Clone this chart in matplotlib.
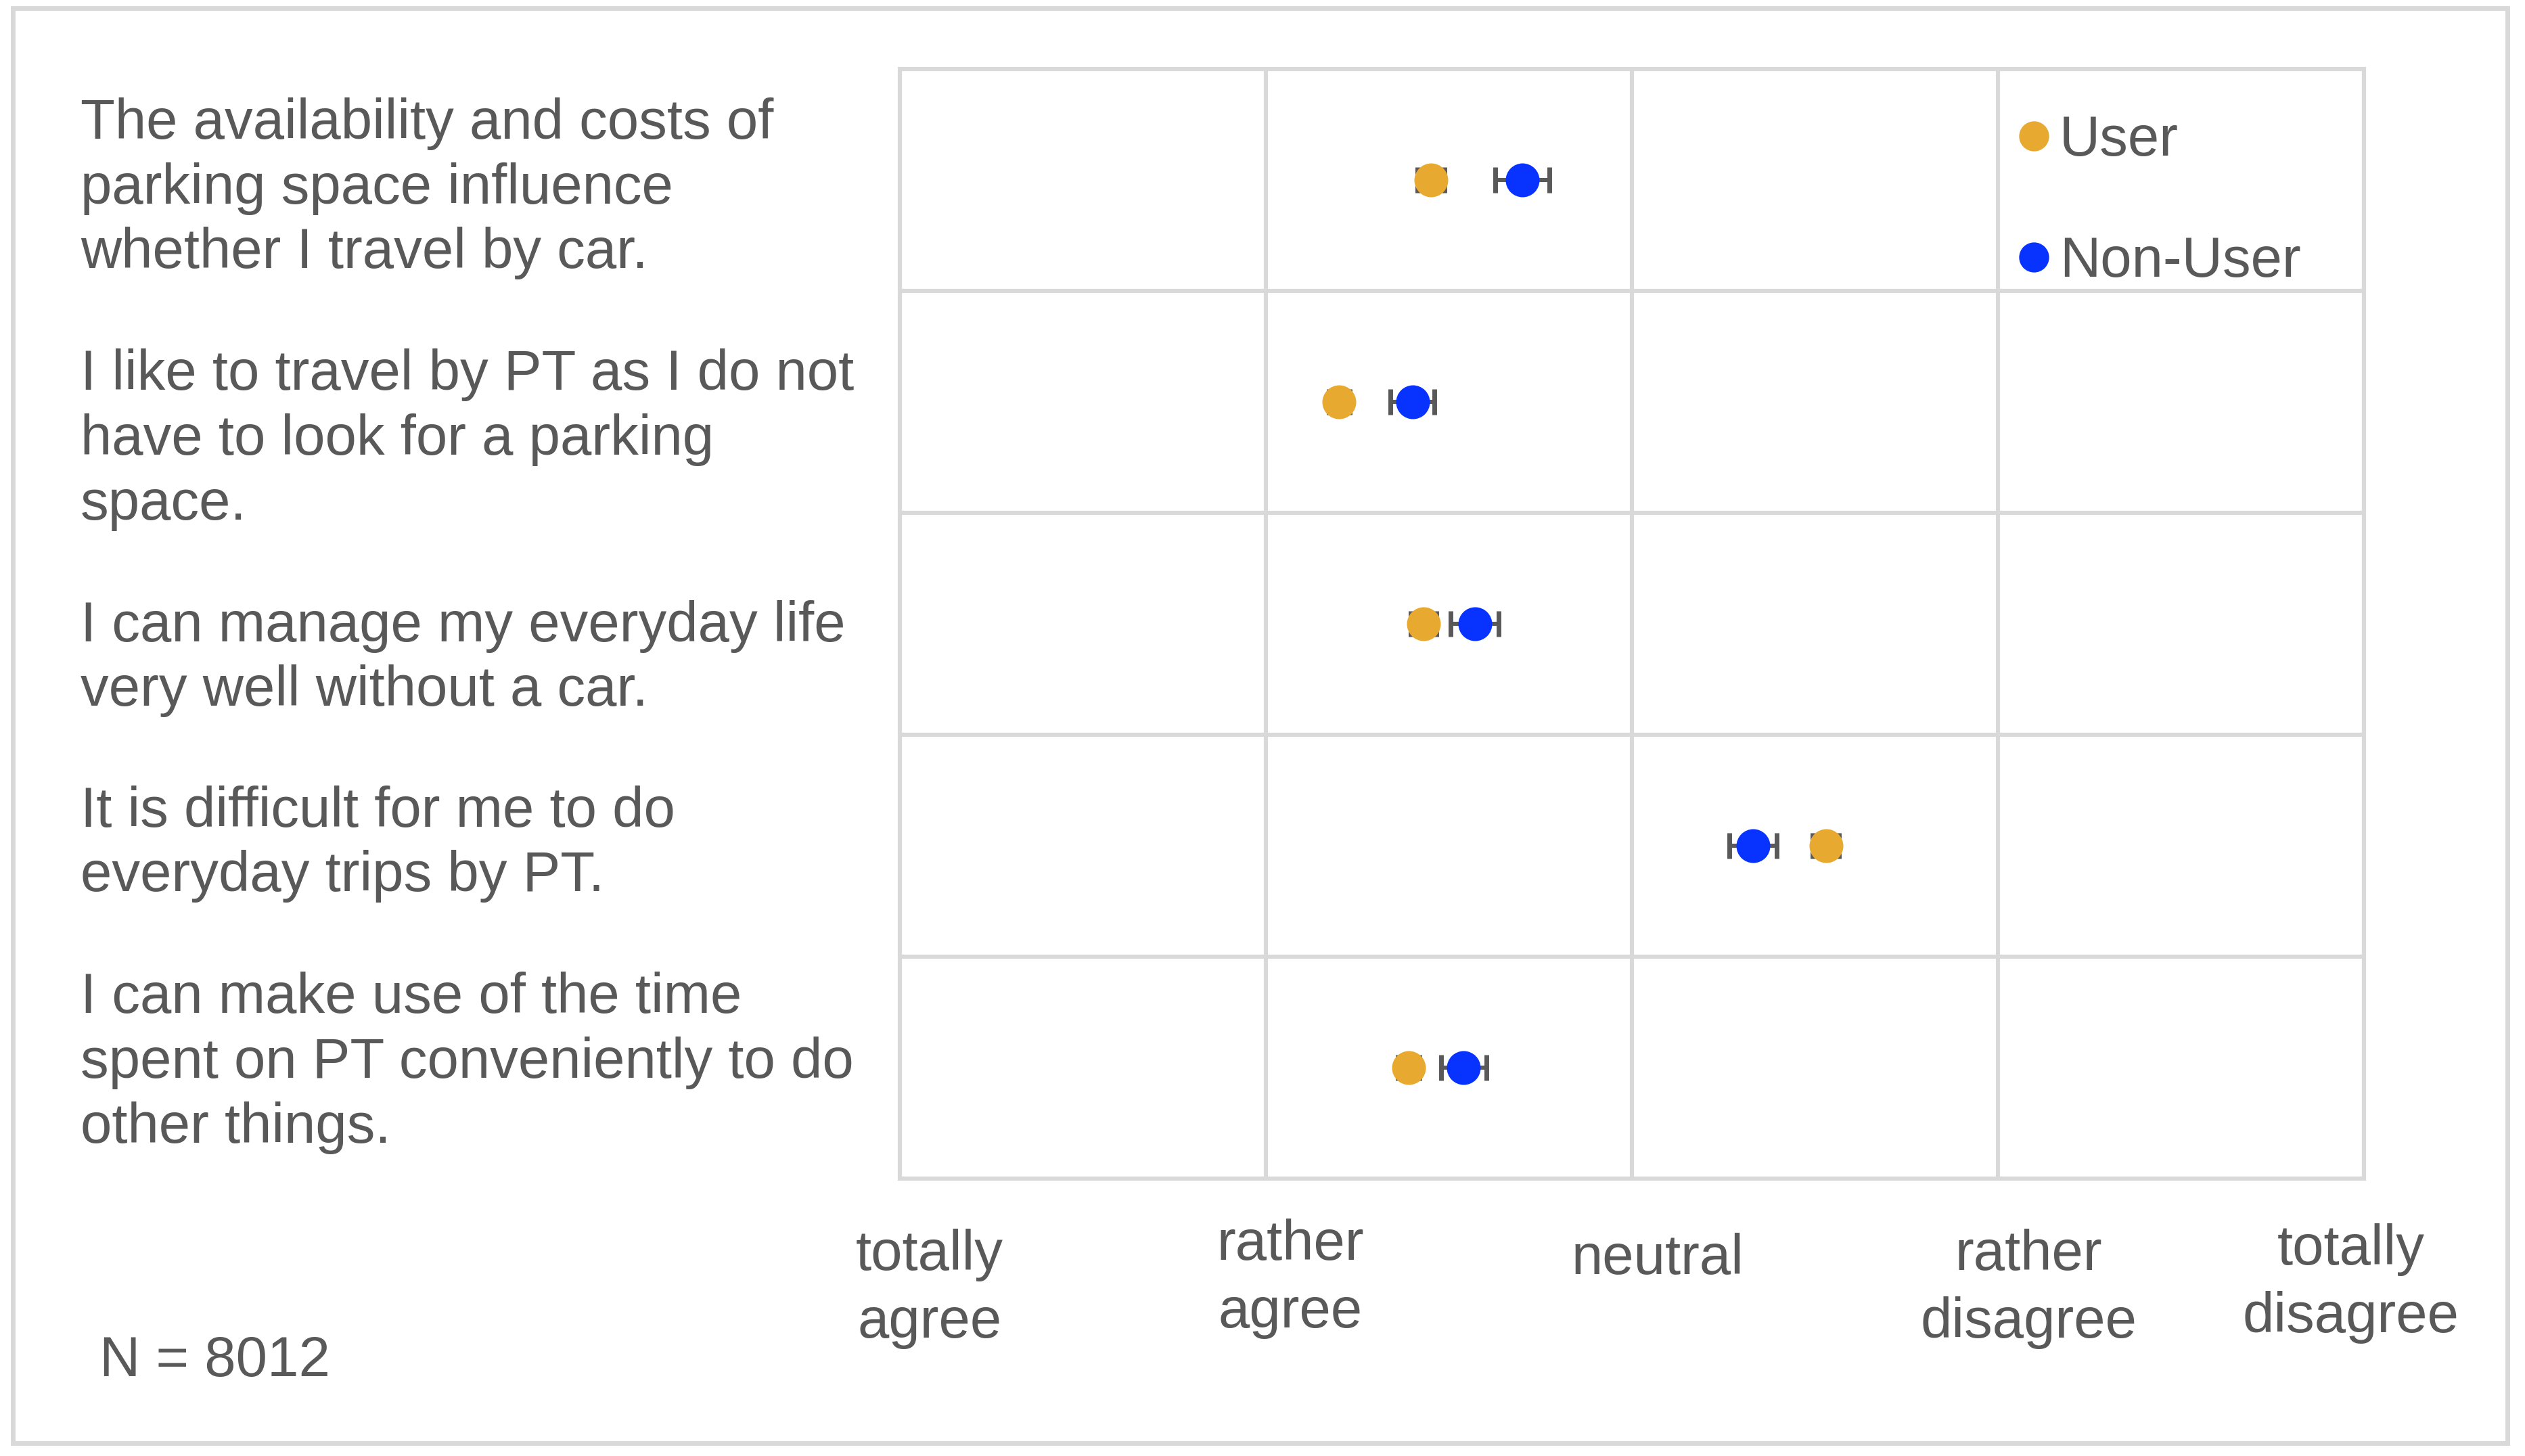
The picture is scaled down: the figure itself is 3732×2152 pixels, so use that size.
import matplotlib
matplotlib.use("Agg")
from matplotlib import pyplot as plt
from matplotlib.patches import Rectangle

plt.rcParams['font.family'] = ['Liberation Sans', 'DejaVu Sans']

statements = [
    "The availability and costs of\nparking space influence\nwhether I travel by car.",
    "I like to travel by PT as I do not\nhave to look for a parking\nspace.",
    "I can manage my everyday life\nvery well without a car.",
    "It is difficult for me to do\neveryday trips by PT.",
    "I can make use of the time\nspent on PT conveniently to do\nother things.",
]
scale_labels = ["totally\nagree", "rather\nagree", "neutral", "rather\ndisagree", "totally\ndisagree"]
scale_values = [1, 2, 3, 4, 5]

user_mean = [2.45, 2.20, 2.43, 3.53, 2.39]
user_err = [0.037, 0.028, 0.035, 0.036, 0.030]
nonuser_mean = [2.70, 2.40, 2.57, 3.33, 2.54]
nonuser_err = [0.074, 0.060, 0.066, 0.065, 0.062]

TEXT = '#595959'
GRID = '#D9D9D9'
USER_C = '#E8A931'
NONUSER_C = '#0833FF'

fig = plt.figure(figsize=(18.66, 10.76), dpi=200)
ax = fig.add_axes([0.3565, 0.1903, 0.5797, 0.7622])

rows = [i + 0.5 for i in range(len(statements))]

ax.errorbar(nonuser_mean, rows, xerr=nonuser_err, fmt='none', ecolor=TEXT,
            elinewidth=2.2, capsize=7, capthick=2.5, zorder=3)
ax.errorbar(user_mean, rows, xerr=user_err, fmt='none', ecolor=TEXT,
            elinewidth=2.2, capsize=7, capthick=2.5, zorder=3)
ax.plot(user_mean, rows, 'o', color=USER_C, markersize=17, linestyle='none',
        label='User', zorder=4)
ax.plot(nonuser_mean, rows, 'o', color=NONUSER_C, markersize=17, linestyle='none',
        label='Non-User', zorder=4)

ax.set_xlim(1, 5)
ax.set_ylim(len(statements), 0)
ax.set_xticks(scale_values)
ax.set_yticks(range(len(statements) + 1))
ax.grid(True, color=GRID, linewidth=2.2)
ax.set_axisbelow(True)
ax.tick_params(length=0, labelbottom=False, labelleft=False)
for s in ax.spines.values():
    s.set_color(GRID)
    s.set_linewidth(2.2)

leg = ax.legend(loc='upper left', bbox_to_anchor=(0.763, 0.959), frameon=False,
                fontsize=30, labelcolor=TEXT, handlelength=0.6, handletextpad=0.15,
                labelspacing=1.21, borderpad=0, borderaxespad=0, markerscale=0.88)

# scale labels under the axis
label_dx = [0.08, 0.066, 0.07, 0.084, -0.035]
label_y = [-0.099, -0.090, -0.072, -0.099, -0.094]
for v, lab, dx, yy in zip(scale_values, scale_labels, label_dx, label_y):
    ax.text(v + dx, yy, lab, transform=ax.get_xaxis_transform(), ha='center',
            va='center', fontsize=30, color=TEXT, linespacing=1.36, clip_on=False)

# statements on the left
stmt_y = [117, 273, 409, 524, 660]
for txt, yy in zip(statements, stmt_y):
    fig.text(0.0319, 1 - yy / 904, txt, ha='left', va='center', fontsize=30,
             color=TEXT, linespacing=1.29)

fig.text(0.0395, 1 - 845 / 904, "N = 8012", ha='left', va='center', fontsize=30, color=TEXT)

fig.patches.append(Rectangle((0.0051, 0.0088), 0.9879, 0.9857, transform=fig.transFigure,
                             fill=False, edgecolor=GRID, linewidth=2.5))

plt.savefig('out.png', dpi=200)
